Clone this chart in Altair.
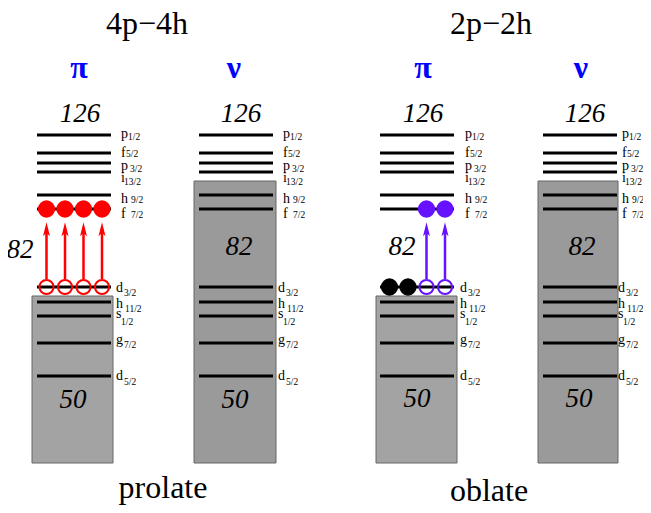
import altair as alt
import pandas as pd

# ---------------- data ----------------
# single-particle levels (energy in arbitrary units, higher = up)
level_letters = ["p", "f", "p", "i", "h", "f", "d", "h", "s", "g", "d"]
level_subs = ["1/2", "5/2", "3/2", "13/2", "9/2", "7/2", "3/2", "11/2", "1/2", "7/2", "5/2"]
level_energy = [370, 352, 342, 333, 310, 296, 218, 203, 189, 162, 129]
letter_energy = [367, 348, 335, 323, 302, 287, 213, 197, 187, 161, 125]
sub_energy = [365, 348, 333, 320, 302, 287, 209, 193, 180, 157, 120]
letter_dx = [10, 10, 10, 10, 10, 10, 5, 5, 5, 5, 5]
is_upper = [1, 1, 1, 1, 1, 1, 0, 0, 0, 0, 0]
sub_dx = [7, 5, 9, 3, 10, 10, 8, 9, 5, 8, 8]

# panels: 4p-4h pi, 4p-4h nu, 2p-2h pi, 2p-2h nu
panel_greek = ["π", "ν", "π", "ν"]
panel_left = [37, 199, 380, 543]
upper_label_shift = [0, 0, 1, -5]
lower_label_shift = [0, 0, 1, -4]
LEVEL_W = 74
box_left = [32, 194, 376, 538]
box_right = [113, 276, 457, 618]
box_top = [209, 324, 209, 324]
box_bottom = [42, 42, 42, 42]
box_fill = ["#a3a3a3", "#9a9a9a", "#a3a3a3", "#9a9a9a"]

greek_x = [79, 234, 423, 581]
greek_y = [427, 427, 427, 427]
n126_x = [80, 241, 423, 585]
n126_y = [383, 383, 383, 383]
n82_x = [20, 239, 402, 582]
n82_y = [247, 250, 250, 250]
n50_x = [73, 235, 417, 579]
n50_y = [97, 97, 98, 98]

titles = ["4p−4h", "2p−2h"]
title_x = [147, 491]
title_y = [471, 471]
shapes = ["prolate", "oblate"]
shape_x = [163, 489]
shape_y = [7, 4]

# electrons: (panel, level index, slot, kind, colour)
el_panel = [0, 0, 0, 0, 0, 0, 0, 0, 2, 2, 2, 2, 2, 2]
el_level = [5, 5, 5, 5, 6, 6, 6, 6, 6, 6, 6, 6, 5, 5]
el_slot = [0, 1, 2, 3, 0, 1, 2, 3, 0, 1, 2, 3, 2, 3]
el_kind = ["p", "p", "p", "p", "h", "h", "h", "h", "p", "p", "h", "h", "p", "p"]
el_color = ["#ff0000"] * 8 + ["#000000", "#000000", "#6611ff", "#6611ff", "#6611ff", "#6611ff"]

# excitations (arrows): panel, slot, colour
ar_panel = [0, 0, 0, 0, 2, 2]
ar_slot = [0, 1, 2, 3, 2, 3]
ar_color = ["#ff0000"] * 4 + ["#6611ff"] * 2

# ---------------- tables ----------------
def slot_x(p, s):
    return panel_left[p] + 9.5 + 18.5 * s

lev_rows, lab_rows = [], []
for p in range(4):
    for i in range(len(level_energy)):
        x_end = panel_left[p] + LEVEL_W
        shift = upper_label_shift[p] if is_upper[i] else lower_label_shift[p]
        lx = x_end + letter_dx[i] + shift
        lev_rows.append(dict(x=panel_left[p], x2=x_end, y=level_energy[i]))
        lab_rows.append(dict(x=lx, y=letter_energy[i], t=level_letters[i],
                             xs=lx + sub_dx[i], ys=sub_energy[i], s=level_subs[i]))
levels = pd.DataFrame(lev_rows)
labels = pd.DataFrame(lab_rows)

boxes = pd.DataFrame(dict(x=box_left, x2=box_right, y=box_bottom, y2=box_top, c=box_fill))

elec = pd.DataFrame(dict(
    x=[slot_x(p, s) for p, s in zip(el_panel, el_slot)],
    y=[level_energy[l] for l in el_level],
    kind=el_kind, c=el_color))
part = elec[elec.kind == "p"]
hole = elec[elec.kind == "h"]

hole_e = level_energy[6]
part_e = level_energy[5]
arrows = pd.DataFrame(dict(
    x=[slot_x(p, s) for p, s in zip(ar_panel, ar_slot)],
    y=[hole_e + 8] * len(ar_slot),
    y2=[part_e - 20] * len(ar_slot),
    yh=[part_e - 21] * len(ar_slot),
    c=ar_color))

greek = pd.DataFrame(dict(x=greek_x, y=greek_y, t=panel_greek))
magic = pd.DataFrame(dict(
    x=n126_x + n82_x + n50_x, y=n126_y + n82_y + n50_y,
    t=["126"] * 4 + ["82"] * 4 + ["50"] * 4))
tit = pd.DataFrame(dict(x=title_x + shape_x, y=title_y + shape_y, t=titles + shapes))

# ---------------- chart ----------------
xs = alt.Scale(domain=[8, 643], nice=False, zero=False)
ys = alt.Scale(domain=[0, 497], nice=False, zero=False)
X = lambda f: alt.X(f, scale=xs, axis=None)
Y = lambda f: alt.Y(f, scale=ys, axis=None)
FONT = "Liberation Serif"

box_l = alt.Chart(boxes).mark_rect(stroke="#666666", strokeWidth=1).encode(
    x=X("x:Q"), x2="x2:Q", y=Y("y:Q"), y2="y2:Q", fill=alt.Color("c:N", scale=None))

lev_l = alt.Chart(levels).mark_rule(color="black", strokeWidth=3).encode(
    x=X("x:Q"), x2="x2:Q", y=Y("y:Q"))

arr_l = alt.Chart(arrows).mark_rule(strokeWidth=2.5).encode(
    x=X("x:Q"), y=Y("y:Q"), y2="y2:Q", color=alt.Color("c:N", scale=None))

head_l = alt.Chart(arrows).mark_point(
    shape="M0,-1L0.45,0.8L0,0.4L-0.45,0.8Z", filled=True, size=240, opacity=1).encode(
    x=X("x:Q"), y=Y("yh:Q"), color=alt.Color("c:N", scale=None))

part_l = alt.Chart(part).mark_point(shape="circle", filled=True, size=300, opacity=1).encode(
    x=X("x:Q"), y=Y("y:Q"), color=alt.Color("c:N", scale=None))

hole_l = alt.Chart(hole).mark_point(shape="circle", filled=False, size=200, strokeWidth=2,
                                    opacity=1).encode(
    x=X("x:Q"), y=Y("y:Q"), color=alt.Color("c:N", scale=None))

lab_l = alt.Chart(labels).mark_text(font=FONT, fontSize=14, align="left",
                                    baseline="alphabetic", color="black").encode(
    x=X("x:Q"), y=Y("y:Q"), text="t:N")
sub_l = alt.Chart(labels).mark_text(font=FONT, fontSize=9.5, align="left",
                                    baseline="alphabetic", color="black").encode(
    x=X("xs:Q"), y=Y("ys:Q"), text="s:N")

greek_l = alt.Chart(greek).mark_text(font=FONT, fontSize=32, fontWeight="bold", align="center",
                                     baseline="alphabetic", color="#0000ff").encode(
    x=X("x:Q"), y=Y("y:Q"), text="t:N")
magic_l = alt.Chart(magic).mark_text(font=FONT, fontSize=27, fontStyle="italic", align="center",
                                     baseline="alphabetic", color="black").encode(
    x=X("x:Q"), y=Y("y:Q"), text="t:N")
tit_l = alt.Chart(tit).mark_text(font=FONT, fontSize=32, align="center",
                                 baseline="alphabetic", color="black").encode(
    x=X("x:Q"), y=Y("y:Q"), text="t:N")

chart = alt.layer(box_l, lev_l, arr_l, head_l, part_l, hole_l, lab_l, sub_l,
                  greek_l, magic_l, tit_l).properties(
    width=635, height=497, padding=0, autosize=alt.AutoSizeParams(type="none"),
    background="white").configure_view(stroke=None)

chart.save("out.html", embed_options={"renderer": "svg", "actions": False})
